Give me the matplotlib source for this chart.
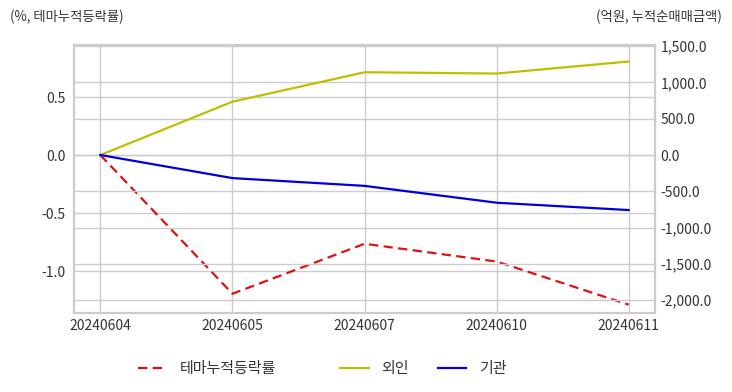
import matplotlib
matplotlib.use("Agg")
import matplotlib.pyplot as plt
from matplotlib.ticker import FuncFormatter, MultipleLocator

dates = ["20240604", "20240605", "20240607", "20240610", "20240611"]
theme_return = [0.0, -1.196, -0.765, -0.918, -1.29]   # %
foreign = [0.0, 734, 1140, 1122, 1288]                 # 억원
institution = [0.0, -318, -425, -657, -758]            # 억원

plt.rcParams["font.family"] = ["Noto Sans CJK KR", "DejaVu Sans"]
plt.rcParams["axes.unicode_minus"] = False

grid_c = "#cccccc"
text_c = "#333333"

fig = plt.figure(figsize=(7.32, 3.92), dpi=100)
ax = fig.add_axes([0.101, 0.2015, 0.794, 0.6835])
ax2 = ax.twinx()

x = range(len(dates))
l1, = ax.plot(x, theme_return, color="#e01010", ls="--", lw=1.6, dashes=(4.2, 2.4))
l2, = ax2.plot(x, foreign, color="#bfbf00", lw=1.6)
l3, = ax2.plot(x, institution, color="#0000dd", lw=1.6)

ax.set_xlim(-0.2, 4.2)
ax.set_ylim(-1.362, 0.948)
ax2.set_ylim(-2176, 1514)
ax.set_xticks(list(x))
ax.set_xticklabels(dates)
ax.yaxis.set_major_locator(MultipleLocator(0.5))
ax2.yaxis.set_major_locator(MultipleLocator(500))
ax.yaxis.set_major_formatter(FuncFormatter(lambda v, p: f"{v:.1f}"))
ax2.yaxis.set_major_formatter(FuncFormatter(lambda v, p: f"{v:,.1f}"))

for a in (ax, ax2):
    a.set_axisbelow(True)
    a.grid(True, color=grid_c, lw=1.0)
    a.tick_params(length=0, labelsize=10, labelcolor=text_c, pad=6)
    for s in a.spines.values():
        s.set_color(grid_c)
        s.set_linewidth(1.5)
ax2.xaxis.grid(False)
ax.tick_params(axis="x", pad=4)
ax2.tick_params(pad=4)

fig.text(0.014, 0.957, "(%, 테마누적등락률)", fontsize=9.6, color=text_c, va="center", ha="left")
fig.text(0.986, 0.957, "(억원, 누적순매매금액)", fontsize=9.6, color=text_c, va="center", ha="right")

fig.legend([l1], ["테마누적등락률"], loc="center left", bbox_to_anchor=(0.189, 0.058),
           frameon=False, fontsize=10.8, handlelength=1.9, handletextpad=0.85,
           borderpad=0, borderaxespad=0, labelcolor=text_c)
fig.legend([l2, l3], ["외인", "기관"], loc="center left", bbox_to_anchor=(0.465, 0.058),
           ncol=2, frameon=False, fontsize=10.8, handlelength=1.9, handletextpad=0.85,
           columnspacing=1.9, borderpad=0, borderaxespad=0, labelcolor=text_c)

fig.savefig("out.png", dpi=100)
